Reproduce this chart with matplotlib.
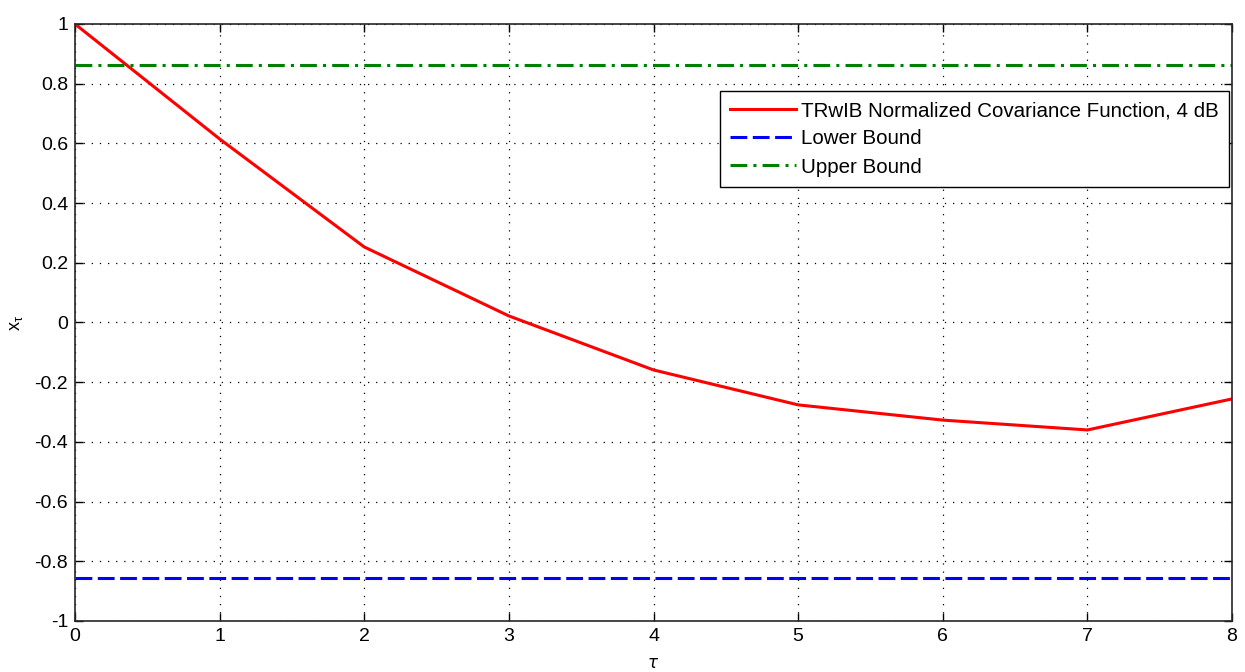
"""Normalized covariance function with lower and upper bounds."""

import matplotlib.pyplot as plt
import numpy as np

lags = [0, 1, 2, 3, 4, 5, 6, 7, 8]
covariance = [1.0, 0.615, 0.253, 0.022, -0.159, -0.276, -0.327, -0.360, -0.256]
lower_bound = -0.856
upper_bound = 0.863

x_ticks = np.arange(0, 9, 1)
y_ticks = np.round(np.arange(-1, 1.01, 0.2), 1)

plt.rcParams["font.family"] = ["Liberation Sans", "DejaVu Sans"]
plt.rcParams["mathtext.fontset"] = "dejavusans"

fig = plt.figure(figsize=(12.45, 6.72), dpi=100)
ax = fig.add_axes([0.0602, 0.0759, 0.9294, 0.8884])

ax.plot(lags, covariance, color="red", lw=2.2,
        label="TRwIB Normalized Covariance Function, 4 dB")
ax.plot([lags[0], lags[-1]], [lower_bound, lower_bound], color="blue",
        lw=2.2, ls=(0, (5.5, 1.8)), label="Lower Bound")
ax.plot([lags[0], lags[-1]], [upper_bound, upper_bound], color="green",
        lw=2.2, ls=(0, (5.5, 2, 1, 2)), label="Upper Bound")

ax.set_xlim(0, 8)
ax.set_ylim(-1, 1)
ax.set_xticks(x_ticks)
ax.set_yticks(y_ticks)
ax.set_yticklabels([f"{v + 0.0:g}" if abs(v) > 1e-9 else "0" for v in y_ticks])
ax.tick_params(direction="in", top=True, right=True, length=6, width=1,
               labelsize=14, pad=5)
ax.grid(True, color="black", ls=(0, (1, 5.5)), lw=0.9)
for spine in ax.spines.values():
    spine.set_linewidth(1.2)
    spine.set_color("#262626")

ax.set_xlabel(r"$\tau$", fontsize=12)
ax.xaxis.set_label_coords(0.5, -0.058)
ax.set_ylabel(r"$\mathregular{x_\tau}$", fontsize=13)
ax.yaxis.set_label_coords(-0.043, 0.5)

leg = ax.legend(loc="upper right", bbox_to_anchor=(0.9974, 0.888),
                borderaxespad=0, fancybox=False, edgecolor="black",
                framealpha=1, fontsize=14.8, handlelength=3.2,
                handletextpad=0.25, labelspacing=0.45, borderpad=0.5)
leg.get_frame().set_linewidth(1.0)

fig.savefig("out.png", dpi=100)
